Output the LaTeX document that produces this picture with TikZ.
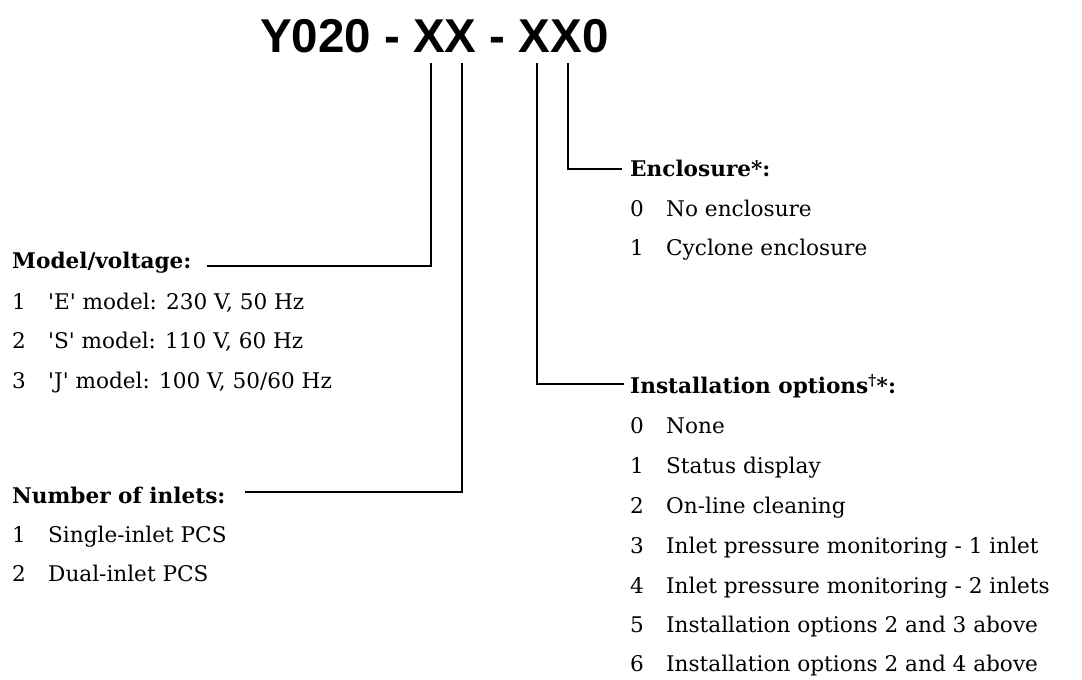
\documentclass[tikz,border=0pt]{standalone}
\usepackage{fontspec}
\setmainfont{DejaVu Serif}
\newfontfamily\codefont{Liberation Sans}
\usepackage{tikz}
\usetikzlibrary{positioning}

\newcommand{\optno}[1]{\makebox[36pt][l]{#1}}

\begin{document}
\begin{tikzpicture}[
        x=1pt, y=-1pt,
        code/.style = {anchor=base west, inner sep=0pt, font=\codefont\bfseries\fontsize{47.5}{50}\selectfont},
        item/.style = {anchor=base west, inner sep=0pt, font=\fontsize{21.6}{24}\selectfont},
        head/.style = {item, font=\fontsize{21.6}{24}\selectfont\bfseries},
        link/.style = {line width=1.3pt}
      ]
      \useasboundingbox (0,0) rectangle (1082,680);

      % ================= CODE =================
      \node[code] (code) at (260,52) {Y020 - XX - XX0};

      % ================= MODEL / VOLTAGE =================
      \node[head] (mv) at (12,268) {Model/voltage:};
      \node[item] (mv1) at (12,309) {\optno{1}\textquotesingle E\textquotesingle\ model: 230 V, 50 Hz};
      \node[item] (mv2) at (12,348.5) {\optno{2}\textquotesingle S\textquotesingle\ model: 110 V, 60 Hz};
      \node[item] (mv3) at (12,388) {\optno{3}\textquotesingle J\textquotesingle\ model: 100 V, 50/60 Hz};

      % ================= INLETS =================
      \node[head] (inl) at (12,503) {Number of inlets:};
      \node[item] (inl1) at (12,542) {\optno{1}Single-inlet PCS};
      \node[item] (inl2) at (12,581) {\optno{2}Dual-inlet PCS};

      % ================= ENCLOSURE =================
      \node[head] (enc) at (630,176) {Enclosure*:};
      \node[item] (enc0) at (630,216) {\optno{0}No enclosure};
      \node[item] (enc1) at (630,255) {\optno{1}Cyclone enclosure};

      % ================= INSTALLATION =================
      \node[head] (inst) at (630,393) {Installation options\textsuperscript{\textdagger}*:};
      \node[item] (inst0) at (630,433) {\optno{0}None};
      \node[item] (inst1) at (630,473) {\optno{1}Status display};
      \node[item] (inst2) at (630,513) {\optno{2}On-line cleaning};
      \node[item] (inst3) at (630,553) {\optno{3}Inlet pressure monitoring - 1 inlet};
      \node[item] (inst4) at (630,593) {\optno{4}Inlet pressure monitoring - 2 inlets};
      \node[item] (inst5) at (630,632) {\optno{5}Installation options 2 and 3 above};
      \node[item] (inst6) at (630,671) {\optno{6}Installation options 2 and 4 above};

      % Leitungen vom Code zu den Gruppen
      \coordinate (mv-top) at (431,63);
      \coordinate (inl-top) at (462,63);
      \coordinate (inst-top) at (537,63);
      \coordinate (enc-top) at (568,63);
      \coordinate (mv-end) at (207,266);
      \coordinate (inl-end) at (245,492);
      \coordinate (inst-end) at (624,384);
      \coordinate (enc-end) at (622,169);

      \draw[link] (mv-top) |- (mv-end);
      \draw[link] (inl-top) |- (inl-end);
      \draw[link] (inst-top) |- (inst-end);
      \draw[link] (enc-top) |- (enc-end);

    \end{tikzpicture}
\end{document}
